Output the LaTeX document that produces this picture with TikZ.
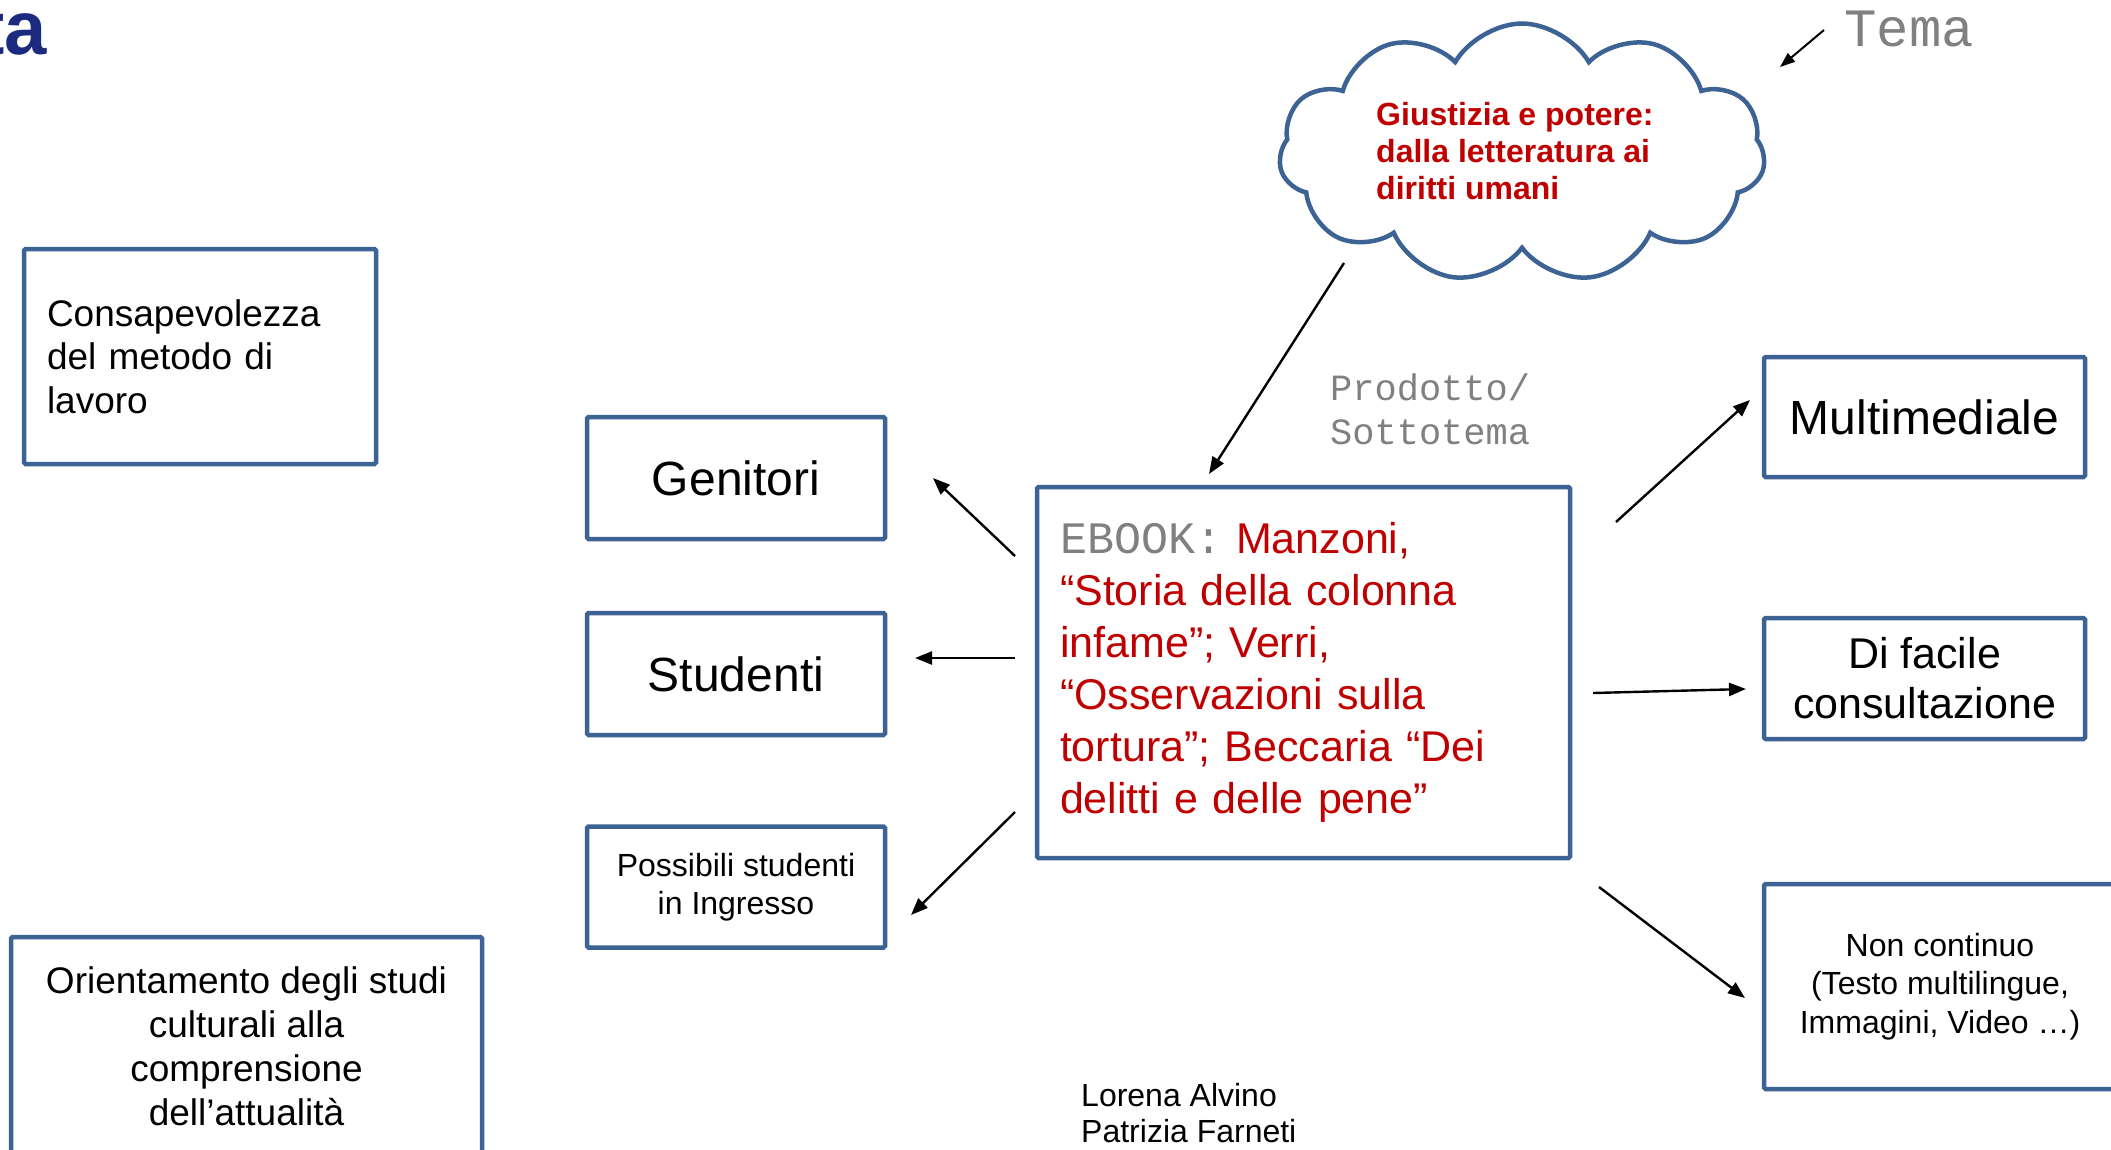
\documentclass[tikz,border=0pt]{standalone}
\usepackage{fontspec}
\setmainfont{Liberation Sans}
\newfontfamily\monof{Liberation Mono}
\usetikzlibrary{shapes.symbols,arrows.meta}
\definecolor{boxblue}{HTML}{3D6294}
\definecolor{redtxt}{HTML}{C00000}
\definecolor{handgray}{HTML}{808080}
\definecolor{titleblue}{HTML}{1C2A80}
\begin{document}
\begin{tikzpicture}[x=1pt,y=-1pt,
  box/.style={draw=boxblue,line width=4.5pt,rounded corners=1.5pt,inner sep=0pt,align=center},
  arr/.style={line width=2.4pt,-{Triangle[length=17pt,width=13pt]}},
  hand/.style={text=handgray,inner sep=0pt,align=left}]
\useasboundingbox (0,0) rectangle (2111,1149);
\fill[white] (0,0) rectangle (2111,1149);

% title fragment
\node[anchor=base east,font=\bfseries\fontsize{76}{76}\selectfont,text=titleblue,inner sep=0pt] (title) at (47,54) {ta};

% left boxes
\node[box,align=left,minimum width=352,minimum height=215,text width=306,
  font=\fontsize{37}{43.5}\selectfont] (consap) at (200,356.5)
  {Consapevolezza\\del metodo di\\lavoro};
\node[box,minimum width=471,minimum height=219,
  font=\fontsize{37}{44}\selectfont] (orient) at (246.5,1046.5)
  {Orientamento degli studi\\culturali alla\\comprensione\\dell’attualità};

% target boxes (left)
\node[box,minimum width=298,minimum height=122,font=\fontsize{48}{48}\selectfont] (genitori) at (736,478) {Genitori};
\node[box,minimum width=298,minimum height=122,font=\fontsize{48}{48}\selectfont] (studenti) at (736,674) {Studenti};
\node[box,minimum width=298,minimum height=121,font=\fontsize{32}{38}\selectfont] (possibili) at (736,887) {Possibili studenti\\in Ingresso};

% central ebook box
\node[box,align=left,minimum width=533,minimum height=371,text width=487,text=redtxt,
  font=\fontsize{43}{52}\selectfont] (ebook) at (1303.5,672.5)
  {{\monof\color{handgray}\fontsize{45}{52}\selectfont EBOOK:}\hspace{14pt}Manzoni,\\
   “Storia della colonna\\infame”; Verri,\\“Osservazioni sulla\\tortura”; Beccaria “Dei\\delitti e delle pene”};

% right boxes
\node[box,minimum width=321,minimum height=120,font=\fontsize{48}{48}\selectfont] (multi) at (1924.5,417) {Multimediale};
\node[box,minimum width=321,minimum height=121,font=\fontsize{43}{50}\selectfont] (facile) at (1924.5,678.5) {Di facile\\consultazione};
\node[box,minimum width=352,minimum height=205,font=\fontsize{32}{38.5}\selectfont] (noncont) at (1940,986.5) {Non continuo\\(Testo multilingue,\\Immagini, Video …)};

% cloud
\node[cloud,draw=boxblue,line width=4.5pt,cloud puffs=11,cloud puff arc=120,aspect=1.9,
  minimum width=486,minimum height=259,inner sep=0pt] (cloud) at (1522,153) {};
\node[anchor=west,align=left,text=redtxt,inner sep=0pt,
  font=\bfseries\fontsize{32}{37}\selectfont] (cloudtxt) at (1376,151)
  {Giustizia e potere:\\dalla letteratura ai\\diritti umani};

% handwritten labels
\node[hand,anchor=base west,font=\monof\fontsize{54}{54}\selectfont] (tema) at (1844,46) {Tema};
\node[hand,anchor=west,font=\monof\fontsize{37}{44}\selectfont] (prodotto) at (1330,409) {Prodotto/\\Sottotema};

% authors
\node[anchor=west,align=left,inner sep=0pt,font=\fontsize{32}{36}\selectfont] (authors) at (1081,1113) {Lorena Alvino\\Patrizia Farneti};

% arrow end points
\coordinate (temaS) at (1824,30);  \coordinate (temaE) at (1780,67);
\coordinate (cloudS) at (1344,263); \coordinate (cloudE) at (1209,474);
\coordinate (genS) at (1015,556);  \coordinate (genE) at (933,478);
\coordinate (stuS) at (1015,658);  \coordinate (stuE) at (915,658);
\coordinate (posS) at (1015,812);  \coordinate (posE) at (911,915);
\coordinate (mulS) at (1616,522);  \coordinate (mulE) at (1750,400);
\coordinate (difS) at (1593,693);  \coordinate (difE) at (1746,689);
\coordinate (nonS) at (1599,887);  \coordinate (nonE) at (1745,998);

\draw[line width=2pt,-{Triangle[length=15pt,width=11pt]}] (temaS) -- (temaE);
\draw[arr] (cloudS) -- (cloudE);
\draw[arr] (genS) -- (genE);
\draw[arr] (stuS) -- (stuE);
\draw[arr] (posS) -- (posE);
\draw[arr] (mulS) -- (mulE);
\draw[arr] (difS) -- (difE);
\draw[arr] (nonS) -- (nonE);
\end{tikzpicture}
\end{document}
